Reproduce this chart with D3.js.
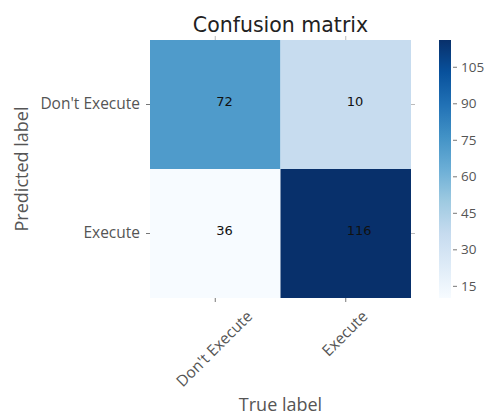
<!DOCTYPE html>
<html><head><meta charset="utf-8">
<script src="https://cdn.jsdelivr.net/npm/d3@7"></script>
<style>body{margin:0;background:#fff}svg{display:block}</style>
</head><body><svg id="c" width="489" height="416"></svg>
<script>
const trueLabels = ["Don't Execute", "Execute"];
const predLabels = ["Don't Execute", "Execute"];
// numbers written in the cells (row = predicted, col = true)
const cellText = [[72, 10], [36, 116]];
// values behind the cell colours as they appear in the picture
const cellColor = [[72, 36], [10, 116]];
const colorTicks = [15, 30, 45, 60, 75, 90, 105];
const colorDomain = [10, 116];
// matplotlib "Blues" colormap anchors
const bluesStops = ["#f7fbff","#deebf7","#c6dbef","#9ecae1","#6baed6","#4292c6","#2171b5","#08519c","#08306b"];

const svg = d3.select("#c");
const m = {left: 150, top: 40, right: 411, bottom: 298};
const x = d3.scaleBand().domain(trueLabels).range([m.left, m.right]);
const y = d3.scaleBand().domain(predLabels).range([m.top, m.bottom]);
const blues = d3.scaleLinear().domain(d3.range(bluesStops.length).map(i => i / (bluesStops.length - 1)))
  .range(bluesStops).interpolate(d3.interpolateRgb);
const norm = d3.scaleLinear().domain(colorDomain).range([0, 1]).clamp(true);
const color = v => blues(norm(v));

const cells = [];
predLabels.forEach((p, i) => trueLabels.forEach((t, j) => cells.push({p, t, v: cellText[i][j], c: cellColor[i][j]})));

svg.append("g").selectAll("rect").data(cells).join("rect")
  .attr("x", d => x(d.t)).attr("y", d => y(d.p))
  .attr("width", x.bandwidth()).attr("height", y.bandwidth())
  .attr("fill", d => color(d.c));

svg.append("g").selectAll("text").data(cells).join("text")
  .attr("x", d => x(d.t) + x.bandwidth() / 2 + 1)
  .attr("y", d => y(d.p) + y.bandwidth() / 2 + 1)
  .attr("font-family", "DejaVu Sans").attr("font-size", 13).attr("fill", "#111")
  .text(d => d.v);

const tickCol = "#777";
const font = "Open Sans";
// bottom axis with labels rotated 45°, centred on the tick (matplotlib ha='center')
const ax = d3.axisBottom(x).tickSize(4).tickSizeOuter(0).tickPadding(4);
const gx = svg.append("g").attr("transform", `translate(0,${m.bottom})`).call(ax);
gx.select(".domain").remove();
gx.selectAll("line").attr("stroke", tickCol);
gx.selectAll("text").attr("font-family", font).attr("font-size", 15.5).attr("fill", "#555")
  .attr("text-anchor", "middle").attr("dy", "0.35em").attr("y", 0).attr("x", 0)
  .each(function() {
    const L = this.getComputedTextLength();
    const h = 15.5;
    const half = (L + h) * Math.SQRT1_2 / 2;
    d3.select(this).attr("transform", `translate(-1,${10 + half}) rotate(-45)`);
  });

const axT = d3.axisTop(x).tickSize(4).tickSizeOuter(0).tickFormat("");
const gt = svg.append("g").attr("transform", `translate(0,${m.top})`).call(axT);
gt.select(".domain").remove(); gt.selectAll("line").attr("stroke", "#bbb");

const ay = d3.axisLeft(y).tickSize(4).tickSizeOuter(0).tickPadding(6);
const gy = svg.append("g").attr("transform", `translate(${m.left},0)`).call(ay);
gy.select(".domain").remove();
gy.selectAll("line").attr("stroke", tickCol);
gy.selectAll("text").attr("font-family", font).attr("font-size", 15.5).attr("fill", "#555");

const ayR = d3.axisRight(y).tickSize(4).tickSizeOuter(0).tickFormat("");
const gr = svg.append("g").attr("transform", `translate(${m.right},0)`).call(ayR);
gr.select(".domain").remove(); gr.selectAll("line").attr("stroke", "#bbb");

// title and labels
svg.append("text").attr("x", (m.left + m.right) / 2).attr("y", 32).attr("text-anchor", "middle")
  .attr("font-family", "DejaVu Sans").attr("font-size", 20.5).attr("fill", "#222").text("Confusion matrix");
svg.append("text").attr("x", (m.left + m.right) / 2).attr("y", 411).attr("text-anchor", "middle")
  .attr("font-family", font).attr("font-size", 18).attr("fill", "#555").text("True label");
svg.append("text").attr("transform", `translate(28,${(m.top + m.bottom) / 2}) rotate(-90)`).attr("text-anchor", "middle")
  .attr("font-family", font).attr("font-size", 18).attr("fill", "#555").text("Predicted label");

// colorbar
const cb = {x: 439, w: 12, top: 40, bottom: 298};
const defs = svg.append("defs");
const grad = defs.append("linearGradient").attr("id", "g").attr("x1", 0).attr("y1", 1).attr("x2", 0).attr("y2", 0);
bluesStops.forEach((c, i) => grad.append("stop").attr("offset", i / (bluesStops.length - 1)).attr("stop-color", c));
svg.append("rect").attr("x", cb.x).attr("y", cb.top).attr("width", cb.w).attr("height", cb.bottom - cb.top).attr("fill", "url(#g)");
const cy = d3.scaleLinear().domain(colorDomain).range([cb.bottom, cb.top]);
const gc = svg.append("g").attr("transform", `translate(${cb.x + cb.w + 2},0)`)
  .call(d3.axisRight(cy).tickValues(colorTicks).tickSize(4).tickPadding(4));
gc.select(".domain").remove();
gc.selectAll("line").attr("stroke", tickCol);
gc.selectAll("text").attr("font-family", font).attr("font-size", 13.5).attr("fill", "#555");
</script></body></html>
